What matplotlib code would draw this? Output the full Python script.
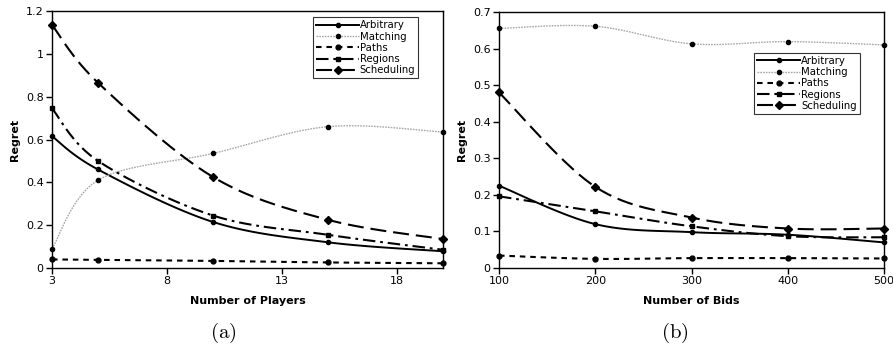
import matplotlib
matplotlib.use('Agg')
import matplotlib.pyplot as plt
import numpy as np

plt.rcParams['font.family'] = 'DejaVu Sans'
plt.rcParams['mathtext.fontset'] = 'cm'
plt.rcParams['lines.scale_dashes'] = False

# panel (a): regret vs number of players
players = [3, 5, 10, 15, 20]
arb_a = [0.615, 0.46, 0.215, 0.12, 0.078]
match_a = [0.09, 0.41, 0.535, 0.66, 0.635]
paths_a = [0.04, 0.038, 0.033, 0.026, 0.022]
regions_a = [0.745, 0.50, 0.245, 0.155, 0.085]
sched_a = [1.135, 0.865, 0.425, 0.225, 0.135]

# panel (b): regret vs number of bids
bids = [100, 200, 300, 400, 500]
arb_b = [0.225, 0.12, 0.098, 0.091, 0.07]
match_b = [0.655, 0.661, 0.613, 0.619, 0.61]
paths_b = [0.034, 0.025, 0.027, 0.027, 0.026]
regions_b = [0.196, 0.155, 0.114, 0.087, 0.084]
sched_b = [0.48, 0.222, 0.138, 0.108, 0.108]

names = ['Arbitrary', 'Matching', 'Paths', 'Regions', 'Scheduling']


def suave(x, y, xr, yr, n=30):
    # excel-like smoothed line (bezier through the points)
    x = np.asarray(x, float) / xr
    y = np.asarray(y, float) / yr
    p = np.column_stack([x, y])
    pts = [p[:1]]
    for i in range(len(p) - 1):
        p0 = p[i - 1] if i > 0 else p[i]
        p3 = p[i + 2] if i + 2 < len(p) else p[i + 1]
        c1 = p[i] + (p[i + 1] - p0) / 6
        c2 = p[i + 1] - (p3 - p[i]) / 6
        t = np.linspace(0, 1, n)[1:, None]
        seg = ((1 - t) ** 3 * p[i] + 3 * (1 - t) ** 2 * t * c1
               + 3 * (1 - t) * t ** 2 * c2 + t ** 3 * p[i + 1])
        pts.append(seg)
    pts = np.vstack(pts)
    return pts[:, 0] * xr, pts[:, 1] * yr


def trozos(ax, xs, ys, patron):
    # cut the curve into dashes (lengths in points), nan between pieces
    d = ax.transData.transform(np.column_stack([xs, ys])) * 72 / ax.figure.dpi
    s = np.concatenate([[0], np.cumsum(np.hypot(np.diff(d[:, 0]), np.diff(d[:, 1])))])
    X, Y = [], []
    pos, k = 0.0, 0
    while pos < s[-1]:
        largo = patron[k % len(patron)]
        if k % 2 == 0:
            a, b = pos, min(pos + largo, s[-1])
            m = (s > a) & (s < b)
            ss = np.concatenate([[a], s[m], [b]])
            X += list(np.interp(ss, s, xs)) + [np.nan]
            Y += list(np.interp(ss, s, ys)) + [np.nan]
        pos += largo
        k += 1
    return X, Y


estilos = [
    dict(color='black', dashes=None, lw=1.4, marker='o', ms=3),
    dict(color='#a8a8a8', dashes=[1.2, 0.8], lw=1.0, marker='o', ms=3, mfc='black', mec='black'),
    dict(color='black', dashes=[4, 3.5], lw=1.5, marker='o', ms=3.5),
    dict(color='black', dashes=[9, 3.5, 2, 3.5], lw=1.5, marker='s', ms=3.5),
    dict(color='black', dashes=[11.5, 5], lw=1.5, marker='D', ms=4.5),
]


def graficar(ax, x, series, xlim, ylim, xticks, yticks, xlabel, leg_box):
    ax.set_xlim(*xlim)
    ax.set_ylim(*ylim)
    xr = xlim[1] - xlim[0]
    yr = ylim[1] - ylim[0]
    for nombre, y, st in zip(names, series, estilos):
        xs, ys = suave(x, y, xr, yr)
        mfc = st.get('mfc', st['color'])
        mec = st.get('mec', st['color'])
        if st['dashes'] is None or nombre == 'Matching':
            ln, = ax.plot(xs, ys, color=st['color'], lw=st['lw'], zorder=2)
            if st['dashes'] is not None:
                ln.set_dashes(st['dashes'])
        else:
            X, Y = trozos(ax, xs, ys, st['dashes'])
            ax.plot(X, Y, color=st['color'], lw=st['lw'], zorder=2,
                    solid_capstyle='butt')
        ax.plot(x, y, ls='none', marker=st['marker'], ms=st['ms'],
                mfc=mfc, mec=mec, zorder=3, clip_on=False)
        lg, = ax.plot([], [], color=st['color'], lw=st['lw'],
                      marker=st['marker'], ms=st['ms'], mfc=mfc, mec=mec, label=nombre)
        if st['dashes'] is not None:
            lg.set_dashes(st['dashes'])
    ax.set_xticks(xticks)
    ax.set_yticks(yticks)
    ax.set_yticklabels(['%g' % v for v in yticks])
    ax.tick_params(direction='out', length=4, width=1, labelsize=8, pad=2)
    for s in ax.spines.values():
        s.set_linewidth(1.0)
    ax.set_xlabel(xlabel, fontsize=8, fontweight='bold', labelpad=7)
    ax.set_ylabel('Regret', fontsize=8, fontweight='bold', labelpad=4)
    leg = ax.legend(loc='upper left', bbox_to_anchor=leg_box, fontsize=7.3,
                    frameon=True, fancybox=False, edgecolor='black',
                    handlelength=4.2, handletextpad=0.1, borderpad=0.3,
                    labelspacing=0.12, borderaxespad=0)
    leg.get_frame().set_linewidth(0.8)


fig = plt.figure(figsize=(8.93, 3.47), dpi=100)
W, H = 893, 347
ax1 = fig.add_axes([52 / W, 1 - 268 / H, (443 - 52) / W, (268 - 11) / H])
ax2 = fig.add_axes([499 / W, 1 - 268 / H, (884 - 499) / W, (268 - 12) / H])

graficar(ax1, players, [arb_a, match_a, paths_a, regions_a, sched_a],
         (3, 20), (0, 1.2), [3, 8, 13, 18], [0, 0.2, 0.4, 0.6, 0.8, 1, 1.2],
         'Number of Players', (0.668, 0.975))
graficar(ax2, bids, [arb_b, match_b, paths_b, regions_b, sched_b],
         (100, 500), (0, 0.7), [100, 200, 300, 400, 500],
         [0, 0.1, 0.2, 0.3, 0.4, 0.5, 0.6, 0.7],
         'Number of Bids', (0.663, 0.84))

fig.text(223 / W, 1 - 333 / H, r'$\mathrm{(a)}$', ha='center', va='center', fontsize=15)
fig.text(675 / W, 1 - 333 / H, r'$\mathrm{(b)}$', ha='center', va='center', fontsize=15)

fig.savefig('out.png', dpi=100)
